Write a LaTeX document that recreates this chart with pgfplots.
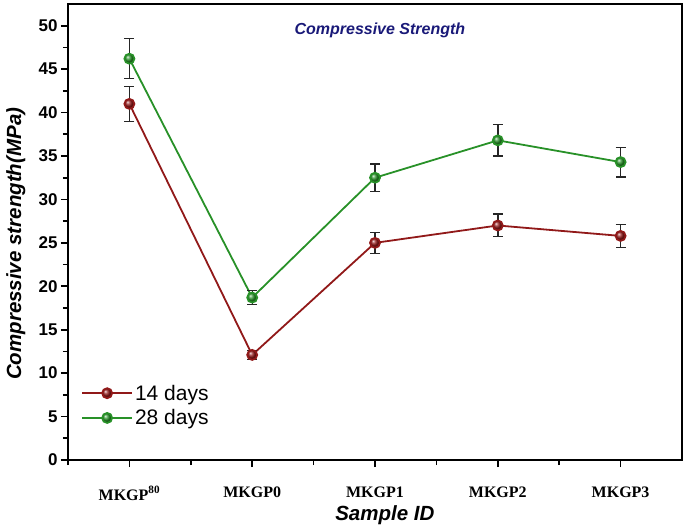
\documentclass[border=0pt]{standalone}
\usepackage{fontspec}
\setmainfont{Liberation Sans}
\newfontfamily\timesf{Liberation Serif}
\usepackage{pgfplots}
\pgfplotsset{compat=1.18}
\usetikzlibrary{shadings,calc}

\definecolor{redline}{RGB}{145,25,25}
\definecolor{greenline}{RGB}{40,145,40}
\definecolor{titleblue}{RGB}{25,25,120}

\begin{document}
\begin{tikzpicture}
\begin{axis}[
    scale only axis,
    width=614pt,
    height=456pt,
    xmin=-0.5, xmax=4.5,
    ymin=0, ymax=52.5,
    xtick={0,1,2,3,4},
    minor xtick={-0.5,0.5,1.5,2.5,3.5},
    xticklabels={MKGP\textsuperscript{80},MKGP0,MKGP1,MKGP2,MKGP3},
    x tick label style={font=\timesf\bfseries\fontsize{16}{18}\selectfont, yshift=-16pt},
    ytick={0,5,...,50},
    minor ytick={2.5,7.5,...,47.5},
    y tick label style={font=\bfseries\fontsize{17}{19}\selectfont},
    /pgf/number format/assume math mode=true,
    tick align=outside,
    tick pos=left,
    major tick length=7pt,
    minor tick length=5pt,
    tick style={line width=1.6pt, black},
    axis line style={line width=1.8pt},
    xlabel={\bfseries\itshape Sample ID},
    ylabel={\bfseries\itshape Compressive strength(MPa)},
    label style={font=\fontsize{20.5}{24}\selectfont},
    xlabel style={at={(axis description cs:0.516,0)}, yshift=-55pt, anchor=center},
    ylabel style={at={(axis description cs:-0.085,0.474)}, anchor=center},
    legend style={draw=none, fill=none, at={(rel axis cs:0.018,0.174)}, anchor=north west,
        font=\fontsize{21}{24}\selectfont, row sep=4pt, inner sep=2pt},
    legend cell align=left,
    legend image code/.code={
        \draw[#1, mark repeat=2, mark phase=2] plot coordinates {(0pt,0pt) (25pt,0pt) (50pt,0pt)};
    },
    error bars/y dir=both,
    error bars/y explicit,
    error bars/error bar style={line width=1.4pt, black!85},
    error bars/error mark options={rotate=90, mark size=5pt, line width=1.4pt, black!85},
]
\addplot[redline, line width=1.8pt, mark=ball, mark size=5pt, mark options={ball color=redline}]
  coordinates {
    (0,41.0) +- (0,2.0)
    (1,12.1) +- (0,0.5)
    (2,25.0) +- (0,1.2)
    (3,27.0) +- (0,1.3)
    (4,25.8) +- (0,1.3)
  };
\addlegendentry{14 days}
\addplot[greenline, line width=1.8pt, mark=ball, mark size=5pt, mark options={ball color=greenline}]
  coordinates {
    (0,46.2) +- (0,2.3)
    (1,18.7) +- (0,0.8)
    (2,32.5) +- (0,1.6)
    (3,36.8) +- (0,1.8)
    (4,34.3) +- (0,1.7)
  };
\addlegendentry{28 days}
\node[font=\bfseries\itshape\fontsize{16}{19}\selectfont, text=titleblue]
  at (rel axis cs:0.508,0.943) {Compressive Strength};
\draw[line width=1.8pt] (rel axis cs:0,1) -- (rel axis cs:1,1) -- (rel axis cs:1,0);
\end{axis}
\pgfresetboundingbox
\useasboundingbox ($(current axis.south west)+(-68pt,-71pt)$) rectangle ($(current axis.north east)+(3pt,4pt)$);
\end{tikzpicture}
\end{document}
